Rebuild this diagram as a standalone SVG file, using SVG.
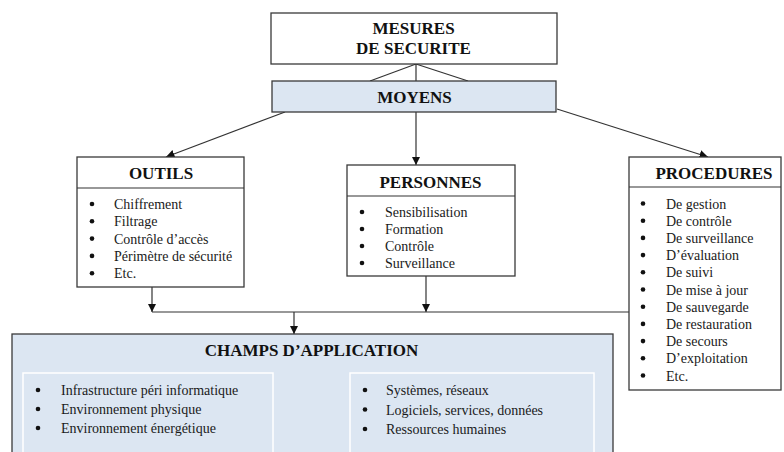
<svg xmlns="http://www.w3.org/2000/svg" width="784" height="452" viewBox="0 0 784 452">
<defs>
<style>
.box{fill:#ffffff;stroke:#3a3a3a;stroke-width:1.3}
.blue{fill:#dce6f2;stroke:#3a3a3a;stroke-width:1.3}
.inner{fill:#dce6f2;stroke:#ffffff;stroke-width:1.5}
.ttl{font-family:"Liberation Serif","Times New Roman",serif;font-weight:bold;font-size:17px;fill:#111;text-anchor:middle}
.it{font-family:"Liberation Serif","Times New Roman",serif;font-size:14px;fill:#1a1a1a}
.bul{fill:#111}
.ln{stroke:#333;stroke-width:1.2;fill:none}
</style>
<marker id="ah" viewBox="0 0 10 10" refX="10" refY="5" markerWidth="8.5" markerHeight="8.5" markerUnits="userSpaceOnUse" orient="auto">
<path d="M0,0 L10,5 L0,10 z" fill="#111"/>
</marker>
</defs>
<rect width="784" height="452" fill="#ffffff"/>

<g id="connectors">
<line class="ln" x1="416" y1="64" x2="416" y2="81"/>
<line class="ln" x1="416" y1="64" x2="370" y2="81"/>
<line class="ln" x1="416" y1="64" x2="468" y2="81"/>
<line class="ln" x1="285" y1="112" x2="166" y2="157" marker-end="url(#ah)"/>
<line class="ln" x1="416" y1="112" x2="416" y2="165" marker-end="url(#ah)"/>
<line class="ln" x1="557" y1="109" x2="708" y2="157" marker-end="url(#ah)"/>
<line class="ln" x1="152" y1="287" x2="152" y2="312" marker-end="url(#ah)"/>
<line class="ln" x1="426" y1="276" x2="426" y2="312" marker-end="url(#ah)"/>
<line class="ln" x1="152" y1="312" x2="629" y2="312"/>
<line class="ln" x1="294" y1="312" x2="294" y2="334" marker-end="url(#ah)"/>
</g>

<g id="mesures">
<rect class="box" x="271" y="13" width="286" height="51"/>
<text class="ttl" x="413.5" y="34">MESURES</text>
<text class="ttl" x="413.5" y="53.5">DE SECURITE</text>
</g>

<g id="moyens">
<rect class="blue" x="272" y="81" width="284" height="31"/>
<text class="ttl" x="414.5" y="102.5">MOYENS</text>
</g>

<g id="outils">
<rect class="box" x="77" y="157" width="167" height="130"/>
<line class="ln" x1="77" y1="188" x2="244" y2="188" stroke="#3a3a3a" stroke-width="1.3"/>
<text class="ttl" x="161" y="179">OUTILS</text>
<g class="bul">
<circle cx="92" cy="204" r="2.3"/><circle cx="92" cy="221.3" r="2.3"/><circle cx="92" cy="238.6" r="2.3"/><circle cx="92" cy="255.9" r="2.3"/><circle cx="92" cy="273.2" r="2.3"/>
</g>
<text class="it" x="114" y="209">Chiffrement</text>
<text class="it" x="114" y="226.3">Filtrage</text>
<text class="it" x="114" y="243.6">Contrôle d’accès</text>
<text class="it" x="114" y="260.9">Périmètre de sécurité</text>
<text class="it" x="114" y="278.2">Etc.</text>
</g>

<g id="personnes">
<rect class="box" x="347" y="165" width="168" height="111"/>
<line class="ln" x1="347" y1="196" x2="515" y2="196" stroke="#3a3a3a" stroke-width="1.3"/>
<text class="ttl" x="430.5" y="188">PERSONNES</text>
<g class="bul">
<circle cx="362" cy="212" r="2.3"/><circle cx="362" cy="229" r="2.3"/><circle cx="362" cy="246" r="2.3"/><circle cx="362" cy="263" r="2.3"/>
</g>
<text class="it" x="385" y="217">Sensibilisation</text>
<text class="it" x="385" y="234">Formation</text>
<text class="it" x="385" y="251">Contrôle</text>
<text class="it" x="385" y="268">Surveillance</text>
</g>

<g id="procedures">
<rect class="box" x="629" y="157" width="152" height="233"/>
<line class="ln" x1="629" y1="187" x2="781" y2="187" stroke="#3a3a3a" stroke-width="1.3"/>
<text class="ttl" x="714" y="179">PROCEDURES</text>
<g class="bul">
<circle cx="643" cy="203.5" r="2.3"/><circle cx="643" cy="220.7" r="2.3"/><circle cx="643" cy="237.9" r="2.3"/><circle cx="643" cy="255.1" r="2.3"/><circle cx="643" cy="272.3" r="2.3"/><circle cx="643" cy="289.5" r="2.3"/><circle cx="643" cy="306.7" r="2.3"/><circle cx="643" cy="323.9" r="2.3"/><circle cx="643" cy="341.1" r="2.3"/><circle cx="643" cy="358.3" r="2.3"/><circle cx="643" cy="375.5" r="2.3"/>
</g>
<text class="it" x="666" y="208.5">De gestion</text>
<text class="it" x="666" y="225.7">De contrôle</text>
<text class="it" x="666" y="242.9">De surveillance</text>
<text class="it" x="666" y="260.1">D’évaluation</text>
<text class="it" x="666" y="277.3">De suivi</text>
<text class="it" x="666" y="294.5">De mise à jour</text>
<text class="it" x="666" y="311.7">De sauvegarde</text>
<text class="it" x="666" y="328.9">De restauration</text>
<text class="it" x="666" y="346.1">De secours</text>
<text class="it" x="666" y="363.3">D’exploitation</text>
<text class="it" x="666" y="380.5">Etc.</text>
</g>

<g id="champs">
<rect class="blue" x="12" y="334" width="601" height="130"/>
<text class="ttl" x="311.5" y="356">CHAMPS D’APPLICATION</text>
<rect class="inner" x="23" y="373" width="250" height="95"/>
<rect class="inner" x="350" y="373" width="244" height="95"/>
<g class="bul">
<circle cx="38" cy="390" r="2.3"/><circle cx="38" cy="409" r="2.3"/><circle cx="38" cy="428" r="2.3"/>
<circle cx="365" cy="390" r="2.3"/><circle cx="365" cy="409.5" r="2.3"/><circle cx="365" cy="429" r="2.3"/>
</g>
<text class="it" x="61" y="395">Infrastructure péri informatique</text>
<text class="it" x="61" y="414">Environnement physique</text>
<text class="it" x="61" y="433">Environnement énergétique</text>
<text class="it" x="386" y="395">Systèmes, réseaux</text>
<text class="it" x="386" y="414.5">Logiciels, services, données</text>
<text class="it" x="386" y="434">Ressources humaines</text>
</g>
</svg>
